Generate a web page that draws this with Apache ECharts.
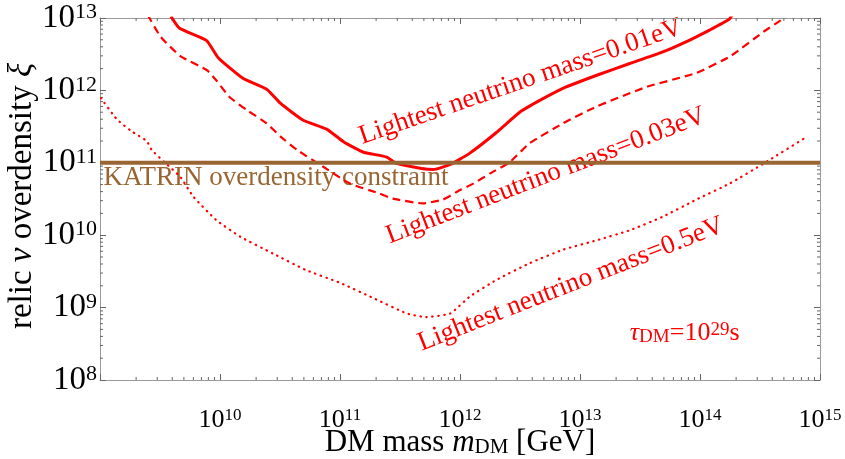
<!DOCTYPE html>
<html>
<head>
<meta charset="utf-8">
<script src="https://cdn.jsdelivr.net/npm/echarts@6/dist/echarts.min.js"></script>
<style>
html, body { margin: 0; background: #fff; }
#chart { width: 845px; height: 459px; }
</style>
</head>
<body>
<div id="chart"></div>
<script>
// lightest neutrino mass = 0.01 eV (solid)
const mass001 = [3.9e9, 4.6e9, 7.7e9, 9.7e9, 1.55e10, 2.45e10, 3.2e10, 4.9e10, 7.8e10, 1.07e11, 1.55e11, 2.45e11, 2.95e11, 4.9e11, 6.0e11, 8.3e11, 1.2e12, 2.0e12, 3.2e12, 4.7e12, 7.2e12, 1.38e13, 2.6e13, 4.9e13, 8.3e13, 1.2e14, 1.74e14, 1.85e14]
const xi001 = [1.05e13, 7.2e12, 4.9e12, 2.8e12, 1.47e12, 1.04e12, 6.6e11, 3.9e11, 2.9e11, 1.95e11, 1.41e11, 1.2e11, 9.8e10, 8.3e10, 8.1e10, 9.5e10, 1.35e11, 2.6e11, 5.1e11, 7.4e11, 1.07e12, 1.62e12, 2.35e12, 3.4e12, 5.0e12, 6.8e12, 9.5e12, 1.1e13]
// 0.03 eV (dashed)
const mass003 = [2.5e9, 3.2e9, 4.7e9, 7.8e9, 9.3e9, 1.2e10, 1.66e10, 2.45e10, 3.2e10, 4.4e10, 7.2e10, 1.2e11, 2.1e11, 2.75e11, 4.9e11, 7.2e11, 1.0e12, 1.3e12, 1.8e12, 2.6e12, 3.8e12, 7.2e12, 1.38e13, 3.6e13, 9.3e13, 1.78e14, 3.4e14, 4.7e14, 5.2e14]
const xi003 = [1.1e13, 5.5e12, 2.95e12, 1.9e12, 1.38e12, 8.1e11, 5.4e11, 3.5e11, 2.3e11, 1.5e11, 8.9e10, 5.2e10, 3.8e10, 3.2e10, 2.75e10, 3.1e10, 4.2e10, 5.2e10, 7.2e10, 1.02e11, 1.86e11, 3.5e11, 6.0e11, 1.12e12, 1.74e12, 2.95e12, 6.5e12, 9.3e12, 1.1e13]
// 0.5 eV (dotted)
const mass05 = [1.02e9, 1.38e9, 1.82e9, 2.45e9, 2.7e9, 3.5e9, 4.7e9, 6.0e9, 9.3e9, 1.48e10, 2.75e10, 5.2e10, 1.0e11, 1.9e11, 3.6e11, 5.2e11, 8.3e11, 1.2e12, 2.0e12, 3.8e12, 7.2e12, 1.38e13, 2.6e13, 4.9e13, 9.3e13, 1.78e14, 3.4e14, 7.8e14]
const xi05 = [7.8e11, 4.0e11, 2.75e11, 2.0e11, 1.5e11, 1.0e11, 6.3e10, 3.4e10, 1.62e10, 9.5e9, 5.6e9, 3.3e9, 2.2e9, 1.35e9, 8.3e8, 7.4e8, 8.3e8, 1.41e9, 2.4e9, 4.1e9, 6.3e9, 8.5e9, 1.17e10, 1.8e10, 3.1e10, 5.2e10, 9.8e10, 2.3e11]
// KATRIN bound
const katrinXi = 1e11
const xRange = [1e9, 1e15]
const yRange = [1e8, 1e13]

const serif = "'Liberation Serif', 'Times New Roman', serif"
const red = '#ff0000'
const brown = '#996633'
const frame = '#9a9a9a'

const pairs = (xs, ys) => xs.map((x, i) => [x, ys[i]])

// 2..9 x 10^n, minor ticks of the log axes
const minorTicks = (lo, hi) => {
  let out = []
  for (let n = lo; n < hi; n++) {
    for (let k = 2; k <= 9; k++) out.push(k * Math.pow(10, n))
  }
  return out
}
const xMinor = minorTicks(9, 15)
const yMinor = minorTicks(8, 13)

const powLabel = (v) => {
  const e = Math.round(Math.log10(v))
  return '{b|10}{s|' + e + '}'
}
const powRich = (size) => ({
  b: { fontFamily: serif, fontSize: size, color: '#000', lineHeight: size, verticalAlign: 'bottom' },
  s: { fontFamily: serif, fontSize: Math.round(size * 0.67), color: '#000', lineHeight: Math.round(size * 0.36), verticalAlign: 'top' }
})

let chart = echarts.init(document.getElementById('chart'))

const axisCommon = {
  type: 'log',
  logBase: 10,
  nameMoveOverlap: false,
  axisLine: { show: true, lineStyle: { color: frame, width: 1 } },
  axisTick: { show: true, inside: true, length: 6, lineStyle: { color: '#666' } },
  splitLine: { show: false },
  minorTick: { show: false }
}

chart.setOption({
  animation: false,
  backgroundColor: '#fff',
  grid: { left: 100, right: 25, top: 18, bottom: 79, outerBoundsMode: 'none', containLabel: false },
  xAxis: [
    {
      ...axisCommon,
      min: xRange[0], max: xRange[1], splitNumber: 6,
      position: 'bottom',
      axisLabel: {
        margin: 27,
        formatter: (v) => (v < 2e9 ? '' : powLabel(v)),
        rich: powRich(26)
      },
      name: '{t|DM mass }{i|m}{d|DM}{t| [GeV]}',
      nameLocation: 'middle',
      nameGap: 47,
      nameTextStyle: {
        rich: {
          t: { fontFamily: serif, fontSize: 31, color: '#000', lineHeight: 31, verticalAlign: 'bottom' },
          i: { fontFamily: serif, fontSize: 31, fontStyle: 'italic', color: '#000', lineHeight: 31, verticalAlign: 'bottom' },
          d: { fontFamily: serif, fontSize: 21, color: '#000', lineHeight: 18, verticalAlign: 'bottom' }
        }
      }
    },
    {
      ...axisCommon,
      min: xRange[0], max: xRange[1], splitNumber: 6,
      position: 'top',
      axisLabel: { show: false }
    }
  ],
  yAxis: [
    {
      ...axisCommon,
      min: yRange[0], max: yRange[1], splitNumber: 5,
      position: 'left',
      axisLabel: { margin: 3, formatter: powLabel, rich: powRich(33) },
      name: '{t|relic }{i|ν}{t| overdensity }{i|ξ}',
      nameLocation: 'middle',
      nameRotate: 90,
      nameGap: 61,
      nameTextStyle: {
        padding: [0, 0, 0, 6],
        rich: {
          t: { fontFamily: serif, fontSize: 33, color: '#000' },
          i: { fontFamily: serif, fontSize: 33, fontStyle: 'italic', color: '#000' }
        }
      }
    },
    {
      ...axisCommon,
      min: yRange[0], max: yRange[1], splitNumber: 5,
      position: 'right',
      axisLabel: { show: false }
    }
  ],
  series: [
    {
      name: 'x minor ticks',
      type: 'custom',
      silent: true,
      clip: false,
      data: xMinor.map((v) => [v, 1e10]),
      renderItem: (params, api) => {
        const p = api.coord([api.value(0), api.value(1)])
        const cs = params.coordSys
        const st = { stroke: '#666', lineWidth: 1 }
        return {
          type: 'group',
          children: [
            { type: 'line', shape: { x1: p[0], y1: cs.y + cs.height, x2: p[0], y2: cs.y + cs.height - 3 }, style: st },
            { type: 'line', shape: { x1: p[0], y1: cs.y, x2: p[0], y2: cs.y + 3 }, style: st }
          ]
        }
      }
    },
    {
      name: 'y minor ticks',
      type: 'custom',
      silent: true,
      clip: false,
      data: yMinor.map((v) => [1e10, v]),
      renderItem: (params, api) => {
        const p = api.coord([api.value(0), api.value(1)])
        const cs = params.coordSys
        const st = { stroke: '#666', lineWidth: 1 }
        return {
          type: 'group',
          children: [
            { type: 'line', shape: { x1: cs.x, y1: p[1], x2: cs.x + 3, y2: p[1] }, style: st },
            { type: 'line', shape: { x1: cs.x + cs.width, y1: p[1], x2: cs.x + cs.width - 3, y2: p[1] }, style: st }
          ]
        }
      }
    },
    {
      name: '0.5eV',
      type: 'line',
      data: pairs(mass05, xi05),
      showSymbol: false,
      smooth: 0.15,
      lineStyle: { color: red, width: 2.2, type: [0.5, 5.5], cap: 'round' }
    },
    {
      name: '0.03eV',
      type: 'line',
      data: pairs(mass003, xi003),
      showSymbol: false,
      smooth: 0.15,
      lineStyle: { color: red, width: 2.2, type: [8, 5] }
    },
    {
      name: '0.01eV',
      type: 'line',
      data: pairs(mass001, xi001),
      showSymbol: false,
      smooth: 0.15,
      lineStyle: { color: red, width: 3 }
    },
    {
      name: 'KATRIN',
      type: 'line',
      data: [[xRange[0], katrinXi], [xRange[1], katrinXi]],
      showSymbol: false,
      lineStyle: { color: brown, width: 4 }
    }
  ]
})

// text annotations, anchored in data coordinates
const notes = [
  { at: [3.2e12, 1.31e12], angle: 19, text: 'Lightest neutrino mass=0.01eV', color: red, align: 'center' },
  { at: [5.2e12, 6.6e10], angle: 21, text: 'Lightest neutrino mass=0.03eV', color: red, align: 'center' },
  { at: [8.4e12, 2.1e9], angle: 21.5, text: 'Lightest neutrino mass=0.5eV', color: red, align: 'center' },
  { at: [1.07e9, 6.2e10], angle: 0, text: 'KATRIN overdensity constraint', color: brown, align: 'left' }
]
let graphic = notes.map((n) => {
  const p = chart.convertToPixel({ gridIndex: 0 }, n.at)
  return {
    type: 'text',
    x: p[0], y: p[1],
    rotation: n.angle * Math.PI / 180,
    silent: true,
    style: {
      text: n.text, fill: n.color, fontFamily: serif, fontSize: 27,
      align: n.align, verticalAlign: 'middle',
      textAlign: n.align, textVerticalAlign: 'middle'
    }
  }
})
const tauAt = chart.convertToPixel({ gridIndex: 0 }, [2.6e13, 4.4e8])
graphic.push({
  type: 'text',
  x: tauAt[0], y: tauAt[1],
  silent: true,
  style: {
    text: '{g|τ}{d|DM}{n|=10}{s|29}{n|s}',
    align: 'left', verticalAlign: 'middle',
    textAlign: 'left', textVerticalAlign: 'middle',
    rich: {
      g: { fontFamily: serif, fontSize: 26, fontStyle: 'italic', fill: red, color: red, lineHeight: 26, verticalAlign: 'bottom' },
      n: { fontFamily: serif, fontSize: 26, fill: red, color: red, lineHeight: 26, verticalAlign: 'bottom' },
      d: { fontFamily: serif, fontSize: 19, fill: red, color: red, lineHeight: 14, verticalAlign: 'bottom' },
      s: { fontFamily: serif, fontSize: 19, fill: red, color: red, lineHeight: 8, verticalAlign: 'top' }
    }
  }
})
chart.setOption({ graphic: graphic })
</script>
</body>
</html>
